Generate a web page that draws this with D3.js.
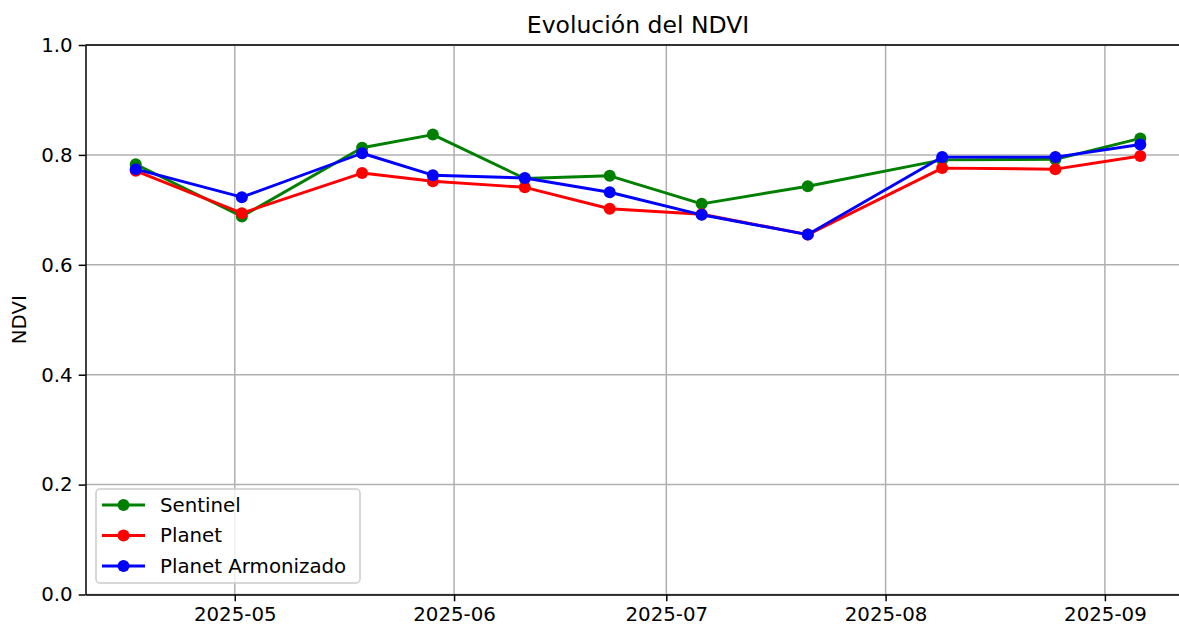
<!DOCTYPE html>
<html>
<head>
<meta charset="utf-8">
<script src="https://cdn.jsdelivr.net/npm/d3@7"></script>
<style>
  body { margin: 0; background: #fff; }
  svg { display: block; font-family: "DejaVu Sans", sans-serif; }
</style>
</head>
<body>
<script>
const width = 1179;
const height = 625;

// data
const dates = ["2025-04-17", "2025-05-02", "2025-05-19", "2025-05-29", "2025-06-11",
  "2025-06-23", "2025-07-06", "2025-07-21", "2025-08-09", "2025-08-25", "2025-09-06"];
const sentinel = [0.783, 0.688, 0.813, 0.837, 0.757, 0.762, 0.711, 0.743, 0.791, 0.792, 0.830];
const planet = [0.771, 0.694, 0.767, 0.752, 0.741, 0.702, 0.692, 0.655, 0.776, 0.774, 0.798];
const planetArm = [0.774, 0.723, 0.803, 0.763, 0.758, 0.732, 0.691, 0.655, 0.796, 0.796, 0.819];
const yTicks = [0.0, 0.2, 0.4, 0.6, 0.8, 1.0];
const title = "Evolución del NDVI";
const yLabel = "NDVI";

const series = [
  {name: "Sentinel", color: "green", values: sentinel},
  {name: "Planet", color: "red", values: planet},
  {name: "Planet Armonizado", color: "blue", values: planetArm}
];

const margin = {top: 45, left: 85.5};
const plotW = 1105;   // right spine falls outside the picture
const plotH = 549.5;
const fs = 19.8;      // tick / legend font size

const parse = d3.utcParse("%Y-%m-%d");
const xDates = dates.map(parse);

// matplotlib-like 5% margin
const ext = d3.extent(xDates);
const span = ext[1] - ext[0];
const x = d3.scaleUtc()
  .domain([new Date(+ext[0] - span * 0.05), new Date(+ext[1] + span * 0.05)])
  .range([margin.left, margin.left + plotW]);

const y = d3.scaleLinear()
  .domain([0, 1])
  .range([margin.top + plotH, margin.top]);

const svg = d3.select("body").append("svg")
  .attr("width", width)
  .attr("height", height);

const monthTicks = d3.utcMonth.range(x.domain()[0], x.domain()[1]);

// grid
svg.append("g")
  .selectAll("line.vx")
  .data(monthTicks)
  .enter().append("line")
  .attr("x1", d => x(d)).attr("x2", d => x(d))
  .attr("y1", y(0)).attr("y2", y(1))
  .attr("stroke", "#b0b0b0").attr("stroke-width", 1.5);

svg.append("g")
  .selectAll("line.hy")
  .data(yTicks)
  .enter().append("line")
  .attr("x1", x.range()[0]).attr("x2", x.range()[1])
  .attr("y1", d => y(d)).attr("y2", d => y(d))
  .attr("stroke", "#b0b0b0").attr("stroke-width", 1.5);

// axes
const xAxis = svg.append("g")
  .attr("transform", `translate(0,${y(0)})`)
  .call(d3.axisBottom(x).tickValues(monthTicks).tickFormat(d3.utcFormat("%Y-%m"))
    .tickSizeInner(6.8).tickSizeOuter(0).tickPadding(6));

const yAxis = svg.append("g")
  .attr("transform", `translate(${margin.left},0)`)
  .call(d3.axisLeft(y).tickValues(yTicks).tickFormat(d3.format(".1f"))
    .tickSizeInner(6.8).tickSizeOuter(0).tickPadding(6));

[xAxis, yAxis].forEach(g => {
  g.select(".domain").attr("stroke", "#000").attr("stroke-width", 1.5);
  g.selectAll(".tick line").attr("stroke", "#000").attr("stroke-width", 1.5);
  g.selectAll(".tick text").attr("fill", "#000").style("font-size", fs + "px")
    .style("font-family", "DejaVu Sans");
});

// top spine
svg.append("line")
  .attr("x1", x.range()[0]).attr("x2", x.range()[1])
  .attr("y1", y(1)).attr("y2", y(1))
  .attr("stroke", "#000").attr("stroke-width", 1.5);

// series
const line = d3.line()
  .x((d, i) => x(xDates[i]))
  .y(d => y(d));

series.forEach(s => {
  const g = svg.append("g");
  g.append("path")
    .datum(s.values)
    .attr("fill", "none")
    .attr("stroke", s.color)
    .attr("stroke-width", 2.9)
    .attr("stroke-linejoin", "round")
    .attr("d", line);
  g.selectAll("circle")
    .data(s.values)
    .enter().append("circle")
    .attr("cx", (d, i) => x(xDates[i]))
    .attr("cy", d => y(d))
    .attr("r", 6)
    .attr("fill", s.color);
});

// title and y label
svg.append("text")
  .attr("x", (x.range()[0] + x.range()[1]) / 2)
  .attr("y", 33)
  .attr("text-anchor", "middle")
  .style("font-size", "23.5px")
  .text(title);

svg.append("text")
  .attr("transform", `translate(26,${y(0.5)}) rotate(-90)`)
  .attr("text-anchor", "middle")
  .style("font-size", fs + "px")
  .text(yLabel);

// legend
const legend = svg.append("g").attr("transform", "translate(96,489)");
legend.append("rect")
  .attr("width", 264).attr("height", 94)
  .attr("rx", 4)
  .attr("fill", "#fff").attr("fill-opacity", 0.8)
  .attr("stroke", "#cccccc").attr("stroke-width", 1.5);

series.forEach((s, i) => {
  const row = legend.append("g").attr("transform", `translate(0,${16 + i * 30.5})`);
  row.append("line")
    .attr("x1", 6).attr("x2", 49)
    .attr("stroke", s.color).attr("stroke-width", 2.9);
  row.append("circle")
    .attr("cx", 27.5).attr("r", 6).attr("fill", s.color);
  row.append("text")
    .attr("x", 64).attr("dy", "0.35em")
    .style("font-size", fs + "px")
    .text(s.name);
});
</script>
</body>
</html>
